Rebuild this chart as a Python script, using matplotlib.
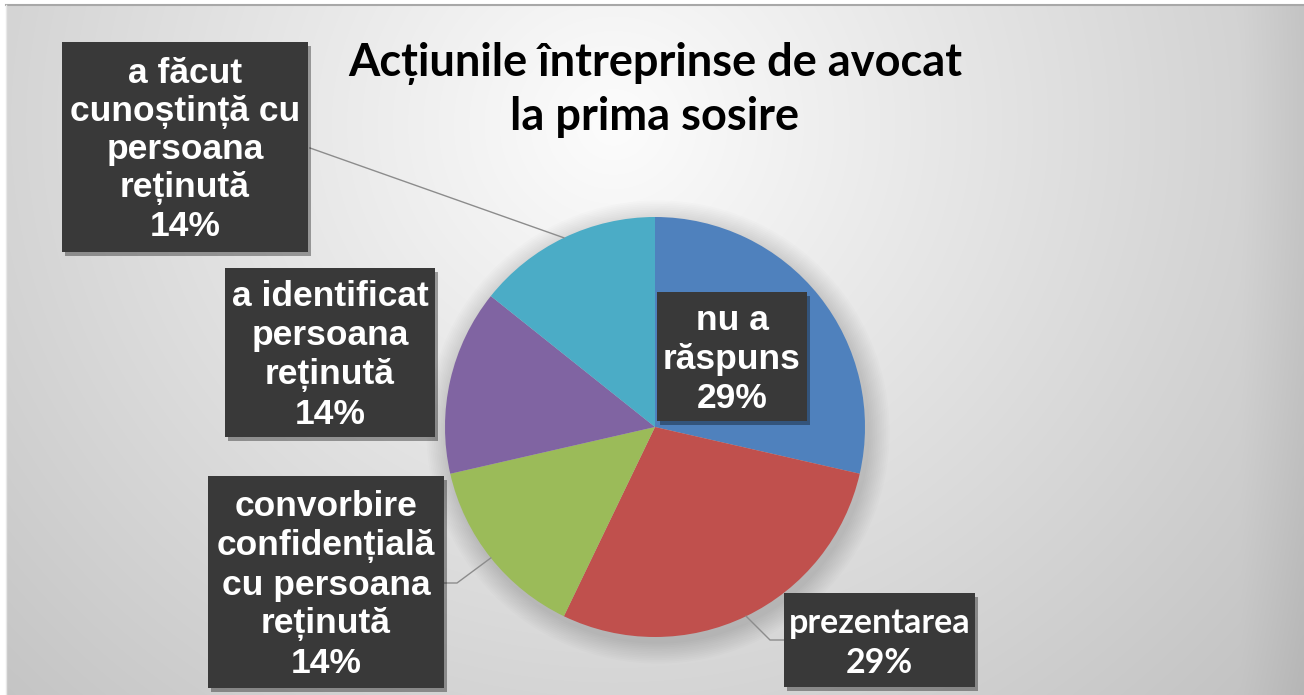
import numpy as np
import matplotlib.pyplot as plt
from matplotlib.patches import Rectangle

# data
categories = [
    "nu a\nrăspuns",
    "prezentarea",
    "convorbire\nconfidențială\ncu persoana\nreținută",
    "a identificat\npersoana\nreținută",
    "a făcut\ncunoștință cu\npersoana\nreținută",
]
counts = [2, 2, 1, 1, 1]
colors = ["#4F81BD", "#C0504D", "#9BBB59", "#8064A2", "#4BACC6"]
title = "Acțiunile întreprinse de avocat\nla prima sosire"

# label boxes in pixel coords (x0, y0, x1, y1), font family, size
boxes = [
    (657, 292, 807, 421),
    (784, 593, 975, 687),
    (208, 476, 444, 688),
    (225, 268, 435, 437),
    (62, 42, 308, 252),
]
fonts = ["Liberation Sans", "Lato", "Liberation Sans", "Liberation Sans", "Liberation Sans"]
sizes = [25.5, 24.5, 25.5, 25.5, 25.5]
spacing = [1.22, 1.3, 1.22, 1.22, 1.18]
# leader line start points (on box edge), None = label inside slice
leaders = [None, [(784, 640), (770, 640)], [(444, 583), (457, 583)], None, [(310, 148)]]

W, H = 1304, 695
center = (655, 427)
radius = 210

fig = plt.figure(figsize=(W / 100, H / 100), dpi=100)
fig.patch.set_facecolor("white")
ax = fig.add_axes([0, 0, 1, 1])
ax.set_xlim(0, W)
ax.set_ylim(H, 0)
ax.set_aspect("equal")
ax.axis("off")

# background gradient
yy, xx = np.mgrid[0:H, 0:W]
d = np.hypot(xx - 610, (yy - 120) * 1.05)
v = np.clip(0.99 - 0.23 * d / 900, 0, 1)
v = v - 0.04 * np.clip((xx - 1240) / 60, 0, 1)
ax.imshow(np.dstack([v, v, v]), extent=(6, W, H, 5), zorder=0, interpolation="bilinear")
ax.plot([6, W], [5, 5], color="#a8a8a8", lw=1.5, zorder=1)
ax.plot([6, 6], [5, H], color="#e8e8e8", lw=1, zorder=1)

# soft shadow around the pie
for k in range(12, 0, -1):
    c = plt.Circle((center[0] + 3, center[1] + 5), radius + k * 1.8, color="black",
                   alpha=0.011, lw=0, zorder=1)
    ax.add_patch(c)

wedges, _ = ax.pie(counts, colors=colors, startangle=-90, counterclock=True,
                   center=center, radius=radius, frame=True,
                   wedgeprops=dict(linewidth=0, zorder=2))
ax.set_xlim(0, W)
ax.set_ylim(H, 0)
ax.axis("off")

total = sum(counts)
for i, (lab, cnt) in enumerate(zip(categories, counts)):
    x0, y0, x1, y1 = boxes[i]
    ax.add_patch(Rectangle((x0 + 3, y0 + 4), x1 - x0, y1 - y0, color="black",
                           alpha=0.35, lw=0, zorder=4))
    ax.add_patch(Rectangle((x0, y0), x1 - x0, y1 - y0, color="#393939", lw=0, zorder=5))
    pct = f"{round(100 * cnt / total)}%"
    ax.text((x0 + x1) / 2, (y0 + y1) / 2 + 3, f"{lab}\n{pct}", ha="center", va="center",
            color="white", fontsize=sizes[i], family=fonts[i], fontweight="bold",
            linespacing=spacing[i], zorder=6)
    if leaders[i] is not None:
        w = wedges[i]
        mid = np.deg2rad((w.theta1 + w.theta2) / 2)
        end = (center[0] + radius * np.cos(mid), center[1] + radius * np.sin(mid))
        pts = leaders[i] + [end]
        ax.plot([p[0] for p in pts], [p[1] for p in pts], color="#8c8c8c", lw=1, zorder=3)

ax.text(655, 90, title, ha="center", va="center", fontsize=32.5, family="Lato",
        fontweight="bold", color="black", linespacing=1.35, zorder=6)

fig.savefig("out.png", dpi=100)
